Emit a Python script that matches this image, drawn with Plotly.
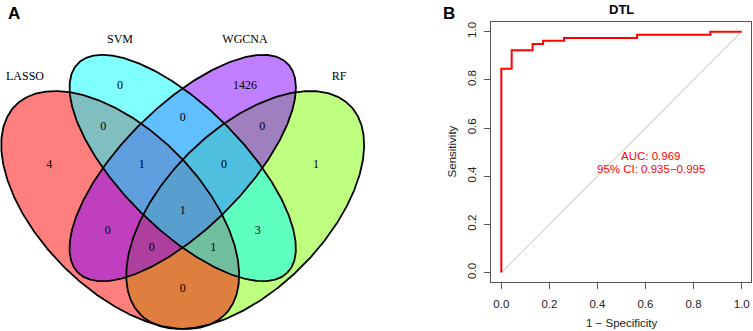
import numpy as np
import plotly.graph_objects as go

W, H = 753, 331

# ---------------- Venn data ----------------
set_names = ["LASSO", "SVM", "WGCNA", "RF"]
set_colors = ["#FF0000", "#00FFFF", "#8000FF", "#80FF00"]
region_keys = ["LASSO", "SVM", "WGCNA", "RF",
               "LASSO&SVM", "SVM&WGCNA", "WGCNA&RF",
               "LASSO&SVM&WGCNA", "SVM&WGCNA&RF", "LASSO&SVM&WGCNA&RF",
               "LASSO&WGCNA", "SVM&RF",
               "LASSO&WGCNA&RF", "LASSO&SVM&RF", "LASSO&RF"]
region_counts = [4, 0, 1426, 1,
                 0, 0, 0,
                 1, 0, 1,
                 0, 3,
                 0, 1, 0]

# ---------------- ROC data ----------------
roc_fpr = [0.0, 0.043, 0.130, 0.174, 0.261, 0.565, 0.870, 1.0]
roc_tpr = [0.0, 0.846, 0.923, 0.949, 0.962, 0.974, 0.987, 1.0]
roc_title = "DTL"
auc_lines = ["AUC: 0.969", "95% CI: 0.935\u22120.995"]
tick_vals = [0.0, 0.2, 0.4, 0.6, 0.8, 1.0]
tick_text = ["0.0", "0.2", "0.4", "0.6", "0.8", "1.0"]

# ---------------- layout geometry (pixels in Venn panel) ----------------
ell_geom = {
    "LASSO": dict(cx=120.2, cy=210.0, a=148, b=80, d=(1, 1)),
    "SVM":   dict(cx=182.7, cy=168.0, a=148, b=61, d=(1, 1)),
    "WGCNA": dict(cx=182.7, cy=168.0, a=148, b=61, d=(-1, 1)),
    "RF":    dict(cx=245.2, cy=210.0, a=148, b=80, d=(-1, 1)),
}
draw_order = ["RF", "LASSO", "WGCNA", "SVM"]
label_pos = {"LASSO": (25, 77), "SVM": (120, 40), "WGCNA": (245, 40), "RF": (339, 77)}
region_pos = [(49.3, 165), (120, 86), (245, 86), (316, 165),
              (103.3, 127.3), (182.7, 118.3), (262.3, 127.3),
              (141.7, 165), (224, 165), (182.7, 210.7),
              (107.7, 231), (257.7, 231),
              (151.7, 248.3), (213.3, 248.3), (182.7, 289.3)]


def ellipse(cx, cy, a, b, d, n=500):
    t = np.linspace(0, 2 * np.pi, n)
    ux, uy = d[0] / np.hypot(*d), d[1] / np.hypot(*d)
    x = cx + a * np.cos(t) * ux - b * np.sin(t) * uy
    y = cy + a * np.cos(t) * uy + b * np.sin(t) * ux
    return x, y


def rgba(hexc, alpha):
    h = hexc.lstrip("#")
    r, g, b = int(h[0:2], 16), int(h[2:4], 16), int(h[4:6], 16)
    return f"rgba({r},{g},{b},{alpha})"


fig = go.Figure()

# Venn fills
for name in draw_order:
    g = ell_geom[name]
    x, y = ellipse(g["cx"], g["cy"], g["a"], g["b"], g["d"])
    col = set_colors[set_names.index(name)]
    fig.add_trace(go.Scatter(x=x, y=y, mode="lines", fill="toself",
                             fillcolor=rgba(col, 0.5), line=dict(width=0, color="rgba(0,0,0,0)"),
                             xaxis="x2", yaxis="y2", hoverinfo="skip", showlegend=False))
# Venn outlines
for name in draw_order:
    g = ell_geom[name]
    x, y = ellipse(g["cx"], g["cy"], g["a"], g["b"], g["d"])
    fig.add_trace(go.Scatter(x=x, y=y, mode="lines", line=dict(width=1.8, color="black"),
                             xaxis="x2", yaxis="y2", hoverinfo="skip", showlegend=False))

# Venn region counts
fig.add_trace(go.Scatter(x=[p[0] for p in region_pos], y=[p[1] for p in region_pos],
                         mode="text", text=[str(c) for c in region_counts],
                         textfont=dict(family="Liberation Serif", size=12, color="black"),
                         xaxis="x2", yaxis="y2", hoverinfo="skip", showlegend=False))
# Venn set labels
fig.add_trace(go.Scatter(x=[label_pos[n][0] for n in set_names], y=[label_pos[n][1] for n in set_names],
                         mode="text", text=set_names,
                         textfont=dict(family="Liberation Serif", size=12, color="black"),
                         xaxis="x2", yaxis="y2", hoverinfo="skip", showlegend=False))

# ROC diagonal
fig.add_trace(go.Scatter(x=[0, 1], y=[0, 1], mode="lines", line=dict(color="#BEBEBE", width=1),
                         hoverinfo="skip", showlegend=False))
# ROC curve
fig.add_trace(go.Scatter(x=roc_fpr, y=roc_tpr, mode="lines", line=dict(color="#FF0000", width=2, shape="vh"),
                         hoverinfo="skip", showlegend=False))

# AUC annotation
for txt, yv in zip(auc_lines, [0.482, 0.431]):
    fig.add_annotation(x=0.621, y=yv, xref="x", yref="y", text=txt, showarrow=False,
                       xanchor="center", yanchor="middle",
                       font=dict(family="Liberation Sans", size=11.5, color="#FF0000"))


def px(xp):
    return xp / W


def py(yp):
    return 1 - yp / H


def paper_text(x, y, text, font, angle=0):
    fig.add_annotation(x=px(x), y=py(y), xref="paper", yref="paper", text=text,
                       textangle=angle, showarrow=False, xanchor="center", yanchor="middle",
                       font=font)


ann_font = dict(family="Liberation Sans", size=11.5, color="#222222")
paper_text(621.5, 9.5, "<b>" + roc_title + "</b>", dict(family="Liberation Sans", size=13, color="black"))
paper_text(451.7, 151.7, "Sensitivity", ann_font, angle=-90)
paper_text(621.5, 322.7, "1 \u2212 Specificity", ann_font)
paper_text(14, 14, "<b>A</b>", dict(family="Liberation Sans", size=17, color="black"))
paper_text(449, 14, "<b>B</b>", dict(family="Liberation Sans", size=17, color="black"))

axis_common = dict(showgrid=False, zeroline=False, showline=True, mirror=True,
                   linecolor="#555555", linewidth=1, ticks="outside", ticklen=6,
                   tickcolor="#555555", tickwidth=1, tickvals=tick_vals, ticktext=tick_text,
                   tickfont=ann_font)

fig.update_layout(
    width=W, height=H, autosize=False,
    margin=dict(l=0, r=0, t=0, b=0),
    paper_bgcolor="white", plot_bgcolor="white",
    xaxis=dict(domain=[491 / W, 751 / W], range=[-0.043, 1.039], anchor="y",
               ticklabelstandoff=5, **axis_common),
    yaxis=dict(domain=[1 - 282 / H, 1 - 22 / H], range=[-0.039, 1.04], anchor="x", tickangle=-90,
               ticklabelstandoff=3, **axis_common),
    xaxis2=dict(domain=[0, 380 / W], range=[0, 380], visible=False, anchor="y2", fixedrange=True),
    yaxis2=dict(domain=[0, 1], range=[H, 0], visible=False, anchor="x2", fixedrange=True),
)

fig.write_html("out.html", config={"displayModeBar": False},
               post_script="document.body.style.margin='0px';document.body.style.overflow='hidden';")
